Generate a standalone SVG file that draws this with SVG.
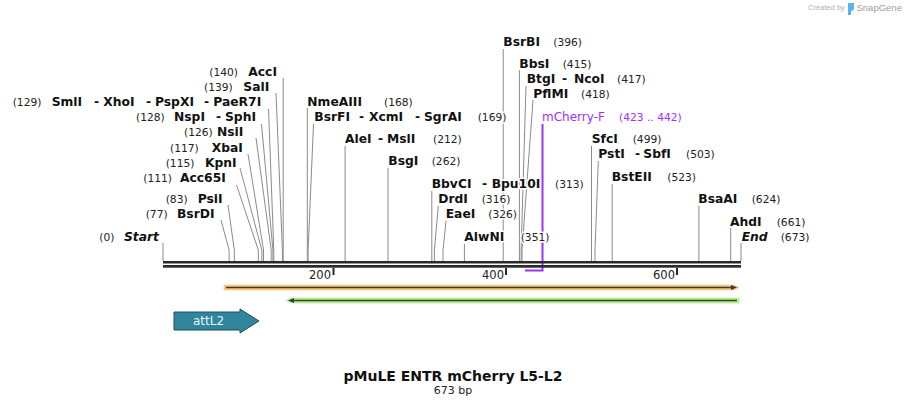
<svg xmlns="http://www.w3.org/2000/svg" width="905" height="406" viewBox="0 0 905 406">
<style>
text{font-family:"DejaVu Sans","Verdana",sans-serif;fill:#111;paint-order:stroke;stroke:#fff;stroke-width:3;stroke-linejoin:round}
.n{font-weight:bold;font-size:12.3px}
.i{font-style:italic}
.p{font-size:10.7px;fill:#222}
.pr{fill:#9b30ff}
.l{fill:none;stroke:#8a8a8a;stroke-width:1}
.tk{font-size:11.5px;fill:#222;stroke:none}
.lg{font-family:"Liberation Sans",Arial,sans-serif;stroke:none}
</style>
<rect width="905" height="406" fill="#fff"/>
<g id="logo">
<text class="lg" x="808" y="10" style="font-size:7.5px;fill:#b0b0b0">Created by</text>
<path d="M848,3 h6 v5 q0,3 -3,3 v4 h-3 z" fill="#5ab4e6"/>
<text class="lg" x="856.5" y="11" style="font-size:9.5px;fill:#a0a0a0">SnapGene</text>
</g>
<g id="connectors">
<path class="l" d="M163,243V261"/>
<path class="l" d="M221,220L229.1,250V261"/>
<path class="l" d="M228,205L234.3,250V261"/>
<path class="l" d="M236.5,185L258.3,250V261"/>
<path class="l" d="M240,168L261.8,250V261"/>
<path class="l" d="M248,154L263.5,250V261"/>
<path class="l" d="M256,138L271.2,250V261"/>
<path class="l" d="M261.5,124L272.9,250V261"/>
<path class="l" d="M268.5,109L273.8,250V261"/>
<path class="l" d="M276,93L282.4,250V261"/>
<path class="l" d="M283.2,78V261"/>
<path class="l" d="M307.3,108V261"/>
<path class="l" d="M313.5,124L308.1,250V261"/>
<path class="l" d="M345.1,146V261"/>
<path class="l" d="M388,168V261"/>
<path class="l" d="M431.8,191V261"/>
<path class="l" d="M438.3,206L434.4,250V261"/>
<path class="l" d="M446,221L443,250V261"/>
<path class="l" d="M464.4,244V261"/>
<path class="l" d="M503.2,49V261"/>
<path class="l" d="M519.4,70V261"/>
<path class="l" d="M526,86L521.1,250V261"/>
<path class="l" d="M533,100L522,250V261"/>
<path class="l" d="M591.5,146V261"/>
<path class="l" d="M598.3,161L595,250V261"/>
<path class="l" d="M612.2,184V261"/>
<path class="l" d="M698.9,206V261"/>
<path class="l" d="M730.7,228V261"/>
<path class="l" d="M741,243V261"/>
<path d="M542.5,124V271.5M525,270.5H543" fill="none" stroke="#9b30ff" stroke-width="2"/>
</g>
<g id="map">
<rect x="163" y="261" width="578" height="2.5" fill="#2a2a2a"/>
<rect x="163" y="265" width="578" height="2.7" fill="#2a2a2a"/>
<rect x="332.5" y="268" width="2" height="7" fill="#2a2a2a"/>
<rect x="505" y="268" width="2" height="7" fill="#2a2a2a"/>
<rect x="676" y="268" width="2" height="7" fill="#2a2a2a"/>
<text class="tk" x="331" y="279" text-anchor="end">200</text>
<text class="tk" x="504" y="279" text-anchor="end">400</text>
<text class="tk" x="675" y="279" text-anchor="end">600</text>
</g>
<g id="labels">
<text x="99.3" y="241" class="p">(0)</text><text x="124" y="241" class="n i">Start</text>
<text x="145.7" y="218" class="p">(77)</text><text x="177" y="218" class="n">BsrDI</text>
<text x="165.7" y="203" class="p">(83)</text><text x="197.7" y="203" class="n">PsiI</text>
<text x="143.3" y="182" class="p">(111)</text><text x="180" y="182" class="n">Acc65I</text>
<text x="165.7" y="167" class="p">(115)</text><text x="205" y="167" class="n">KpnI</text>
<text x="170" y="152" class="p">(117)</text><text x="211.7" y="152" class="n">XbaI</text>
<text x="184" y="136" class="p">(126)</text><text x="217" y="136" class="n">NsiI</text>
<text x="136" y="121" class="p">(128)</text><text x="174" y="121" class="n">NspI</text><text x="216" y="121" class="n">-</text><text x="225" y="121" class="n">SphI</text>
<text x="12.7" y="106" class="p">(129)</text><text x="51.7" y="106" class="n">SmlI</text><text x="94" y="106" class="n">-</text><text x="103.3" y="106" class="n">XhoI</text><text x="146" y="106" class="n">-</text><text x="155" y="106" class="n">PspXI</text><text x="204" y="106" class="n">-</text><text x="213.3" y="106" class="n">PaeR7I</text>
<text x="204" y="91" class="p">(139)</text><text x="243.3" y="91" class="n">SalI</text>
<text x="209.3" y="76" class="p">(140)</text><text x="248.3" y="76" class="n">AccI</text>
<text x="307.3" y="106" class="n">NmeAIII</text><text x="384" y="106" class="p">(168)</text>
<text x="314.3" y="121" class="n">BsrFI</text><text x="359" y="121" class="n">-</text><text x="369" y="121" class="n">XcmI</text><text x="415" y="121" class="n">-</text><text x="424" y="121" class="n">SgrAI</text><text x="477.7" y="121" class="p">(169)</text>
<text x="345" y="143" class="n">AleI</text><text x="378" y="143" class="n">-</text><text x="387" y="143" class="n">MslI</text><text x="433" y="143" class="p">(212)</text>
<text x="388.3" y="165" class="n">BsgI</text><text x="431.7" y="165" class="p">(262)</text>
<text x="431.7" y="188" class="n">BbvCI</text><text x="482" y="188" class="n">-</text><text x="491.7" y="188" class="n">Bpu10I</text><text x="555" y="188" class="p">(313)</text>
<text x="438.3" y="203" class="n">DrdI</text><text x="481.7" y="203" class="p">(316)</text>
<text x="445.7" y="218" class="n">EaeI</text><text x="488.3" y="218" class="p">(326)</text>
<text x="464.3" y="241" class="n">AlwNI</text><text x="520.7" y="241" class="p">(351)</text>
<text x="503.3" y="46" class="n">BsrBI</text><text x="553.3" y="46" class="p">(396)</text>
<text x="519.3" y="68" class="n">BbsI</text><text x="562.7" y="68" class="p">(415)</text>
<text x="526.7" y="83" class="n">BtgI</text><text x="562" y="83" class="n">-</text><text x="574" y="83" class="n">NcoI</text><text x="617" y="83" class="p">(417)</text>
<text x="533.3" y="98" class="n">PflMI</text><text x="581" y="98" class="p">(418)</text>
<text x="542" y="121" class="pr" style="font-size:12px">mCherry-F</text><text x="619" y="121" class="p pr">(423 .. 442)</text>
<text x="591.7" y="143" class="n">SfcI</text><text x="632.7" y="143" class="p">(499)</text>
<text x="598.3" y="158" class="n">PstI</text><text x="635" y="158" class="n">-</text><text x="643.3" y="158" class="n">SbfI</text><text x="686" y="158" class="p">(503)</text>
<text x="611.7" y="181" class="n">BstEII</text><text x="667.3" y="181" class="p">(523)</text>
<text x="698.3" y="203" class="n">BsaAI</text><text x="751.7" y="203" class="p">(624)</text>
<text x="730" y="226" class="n">AhdI</text><text x="776.7" y="226" class="p">(661)</text>
<text x="741.7" y="241" class="n i">End</text><text x="780.7" y="241" class="p">(673)</text>
</g>
<g id="feature-orange">
<path d="M224,285H734L739,287.5L734,290H224Z" fill="#f9c97c" stroke="#f5b955" stroke-width="0.5"/>
<path d="M226,287.5H733" stroke="#3a3a3a" stroke-width="1.5"/>
<path d="M731,285L737,287.5L731,290Z" fill="#3a3a3a"/>
</g>
<g id="feature-green">
<path d="M739,298H292L286,300.5L292,303H739Z" fill="#b8f28e" stroke="#9be26a" stroke-width="0.5"/>
<path d="M737,300.5H292" stroke="#3a3a3a" stroke-width="1.5"/>
<path d="M294,298L288,300.5L294,303Z" fill="#3a3a3a"/>
</g>
<g id="attL2">
<path d="M174,312H240V309L259,321L240,333V330H174Z" fill="#31869d" stroke="#1d4f5c" stroke-width="1"/>
<text x="193" y="325" style="font-size:12px;fill:#e8f4f7;stroke:none">attL2</text>
</g>
<g id="title">
<text x="453" y="381" text-anchor="middle" style="font-weight:bold;font-size:14px;stroke:none">pMuLE ENTR mCherry L5-L2</text>
<text x="453" y="394" text-anchor="middle" style="font-size:11px;fill:#222;stroke:none">673 bp</text>
</g>
</svg>
